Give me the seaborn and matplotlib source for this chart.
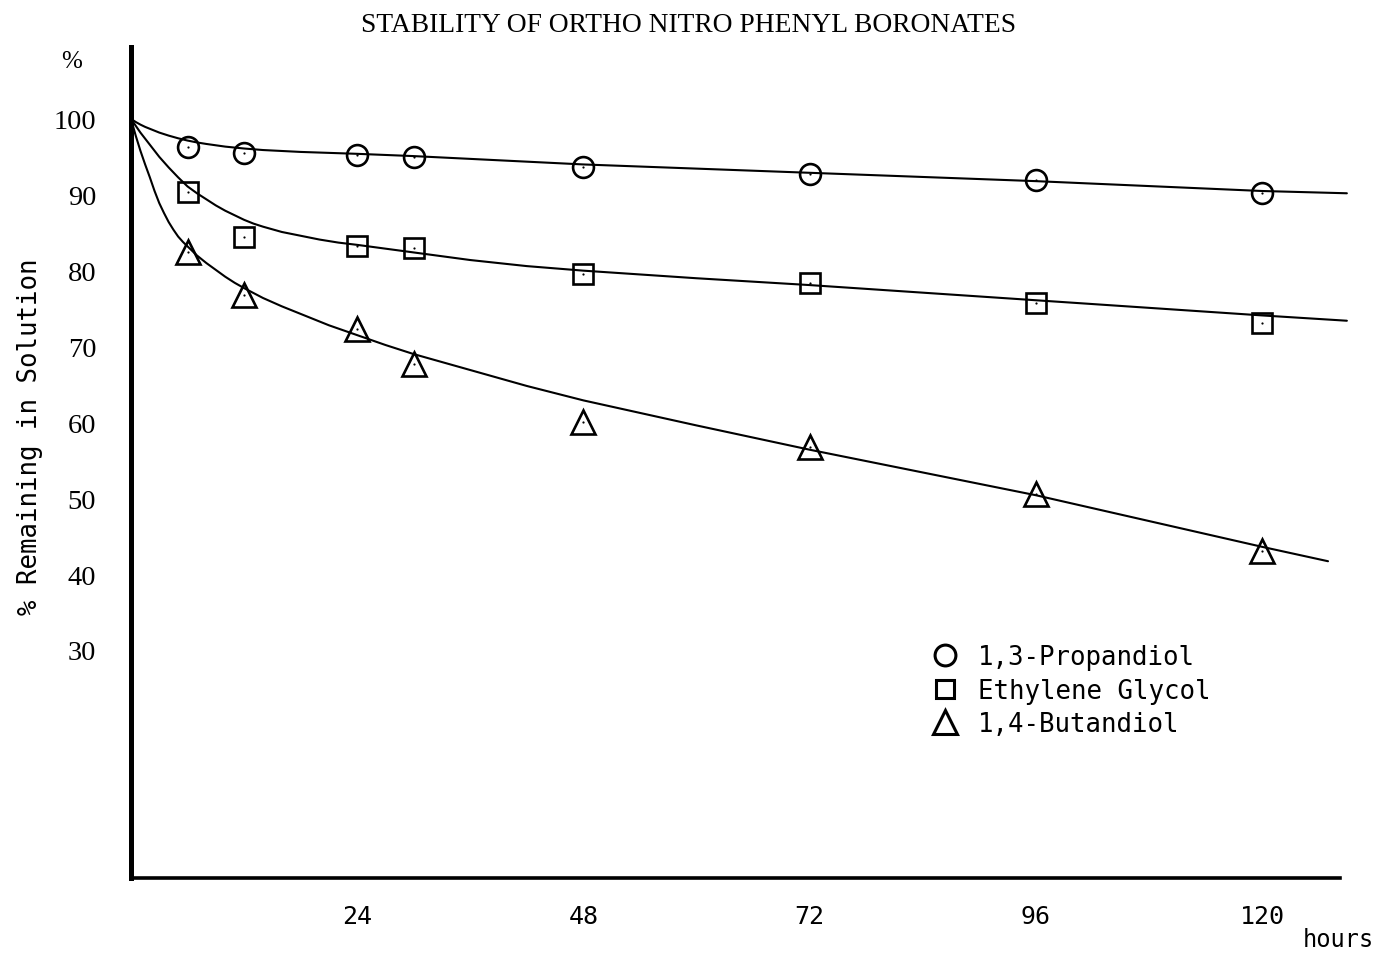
import matplotlib
matplotlib.use("Agg")
import matplotlib.pyplot as plt
from matplotlib.lines import Line2D
import seaborn as sns

# Measured stability, % of boronate remaining in solution
hours = [6, 12, 24, 30, 48, 72, 96, 120]
propandiol = [96.3, 95.5, 95.3, 95.0, 93.6, 92.8, 92.0, 90.3]
ethylene_glycol = [90.4, 84.4, 83.2, 83.0, 79.5, 78.4, 75.8, 73.1]
butandiol = [82.5, 76.8, 72.3, 67.7, 60.1, 56.8, 50.5, 43.1]

# Hand-drawn trend curves through each series
propandiol_curve_h = [0, 0.5, 1, 1.5, 2, 3, 4, 5, 6, 7, 8, 10, 12, 14, 18, 24, 30,
                      48, 72, 96, 120, 129]
propandiol_curve = [100, 99.6, 99.25, 98.95, 98.7, 98.2, 97.8, 97.45, 97.15, 96.9,
                    96.7, 96.35, 96.1, 95.9, 95.65, 95.4, 95.1, 94.0, 92.9, 91.8,
                    90.5, 90.2]

glycol_curve_h = [0, 0.5, 1, 1.5, 2, 3, 4, 5, 6, 7, 8, 9, 10, 11, 12, 13, 14, 16, 18,
                  20, 22, 24, 27, 30, 36, 42, 48, 60, 72, 84, 96, 108, 120, 129]
glycol_curve = [100, 99.1, 98.2, 97.4, 96.6, 95.0, 93.6, 92.3, 91.1, 90.2, 89.4,
                88.6, 87.9, 87.3, 86.7, 86.2, 85.8, 85.1, 84.6, 84.1, 83.7, 83.4,
                82.9, 82.4, 81.4, 80.6, 80.0, 79.0, 78.1, 77.1, 76.1, 75.1, 74.1,
                73.4]

butandiol_curve_h = [0, 0.5, 1, 1.5, 2, 2.5, 3, 3.5, 4, 4.5, 5, 5.5, 6, 7, 8, 9, 10,
                     11, 12, 14, 16, 18, 21, 24, 27, 30, 36, 42, 48, 60, 72, 84, 96,
                     108, 120, 127]
butandiol_curve = [100, 97.8, 95.8, 94.0, 92.3, 90.5, 88.9, 87.6, 86.4, 85.4, 84.5,
                   83.8, 83.2, 82.0, 81.0, 80.1, 79.2, 78.4, 77.7, 76.4, 75.3, 74.3,
                   72.8, 71.5, 70.2, 69.0, 66.9, 64.8, 62.9, 59.6, 56.4, 53.4, 50.4,
                   47.0, 43.6, 41.7]

series_names = ["1,3-Propandiol", "Ethylene Glycol", "1,4-Butandiol"]
x_ticks = [24, 48, 72, 96, 120]
y_ticks = [30, 40, 50, 60, 70, 80, 90, 100]

sns.set_style("white")
plt.rcParams.update({
    "font.family": ["DejaVu Sans Mono"],
    "text.color": "black",
    "axes.labelcolor": "black",
    "axes.edgecolor": "black",
    "xtick.color": "black",
    "ytick.color": "black",
})

fig = plt.figure(figsize=(13.85, 9.54), dpi=100)
ax = fig.add_axes([0.09458, 0.07904, 0.8915, 0.8708])

series = [
    (propandiol, propandiol_curve_h, propandiol_curve, "o", 15),
    (ethylene_glycol, glycol_curve_h, glycol_curve, "s", 14),
    (butandiol, butandiol_curve_h, butandiol_curve, "^", 17),
]

for vals, ch, cy, marker, ms in series:
    sns.lineplot(x=ch, y=cy, ax=ax, color="black", lw=1.5, estimator=None,
                 sort=False, legend=False)
    sns.lineplot(x=hours, y=vals, ax=ax, color="black", marker=marker, ms=ms,
                 linestyle="none", mfc="none", mec="black", mew=1.9,
                 estimator=None, legend=False)
    sns.lineplot(x=hours, y=vals, ax=ax, color="black", marker="o", ms=1.6,
                 linestyle="none", mec="black", mew=0, estimator=None,
                 legend=False)

ax.set_xlim(0, 131)
ax.set_ylim(0, 109.5)
ax.spines["top"].set_visible(False)
ax.spines["right"].set_visible(False)
ax.spines["left"].set_linewidth(3.6)
ax.spines["bottom"].set_linewidth(2.6)
ax.spines["bottom"].set_bounds(0, 128.3)

ax.set_xticks(x_ticks, labels=[str(v) for v in x_ticks],
              fontfamily="DejaVu Sans Mono", fontsize=18)
ax.set_yticks(y_ticks, labels=[str(v) for v in y_ticks],
              fontfamily="Liberation Serif", fontsize=20.5)
ax.tick_params(axis="x", direction="in", length=5, width=1.3, pad=19)
ax.tick_params(axis="y", direction="in", length=4, width=1.3, pad=25)
ax.set_xlabel("")
ax.set_ylabel("")

handles = [
    Line2D([], [], marker="o", ls="none", ms=15, mfc="none", mec="black", mew=2.2),
    Line2D([], [], marker="s", ls="none", ms=13, mfc="none", mec="black", mew=2.2),
    Line2D([], [], marker="^", ls="none", ms=17, mfc="none", mec="black", mew=2.2),
]
ax.legend(handles, series_names, loc="upper left",
          bbox_to_anchor=(932 / 1385, 1 - 645 / 954), bbox_transform=fig.transFigure,
          frameon=False, handlelength=1.0, handletextpad=0.78, labelspacing=0.30,
          borderpad=0, borderaxespad=0,
          prop={"family": "DejaVu Sans Mono", "size": 18.5})

fig.text(689 / 1385, 1 - 25 / 954, "STABILITY OF ORTHO NITRO PHENYL BORONATES",
         ha="center", va="center", fontsize=19.8, fontfamily="Liberation Serif")
fig.text(72 / 1385, 1 - 62 / 954, "%", ha="center", va="center", fontsize=18,
         fontfamily="Liberation Serif")
fig.text(30 / 1385, 1 - 437 / 954, "% Remaining in Solution", rotation=90,
         ha="center", va="center", fontsize=18.5, fontfamily="DejaVu Sans Mono")
fig.text(1338 / 1385, 1 - 940 / 954, "hours", ha="center", va="center",
         fontsize=17, fontfamily="DejaVu Sans Mono")

fig.savefig("out.png", dpi=100, facecolor="white")
